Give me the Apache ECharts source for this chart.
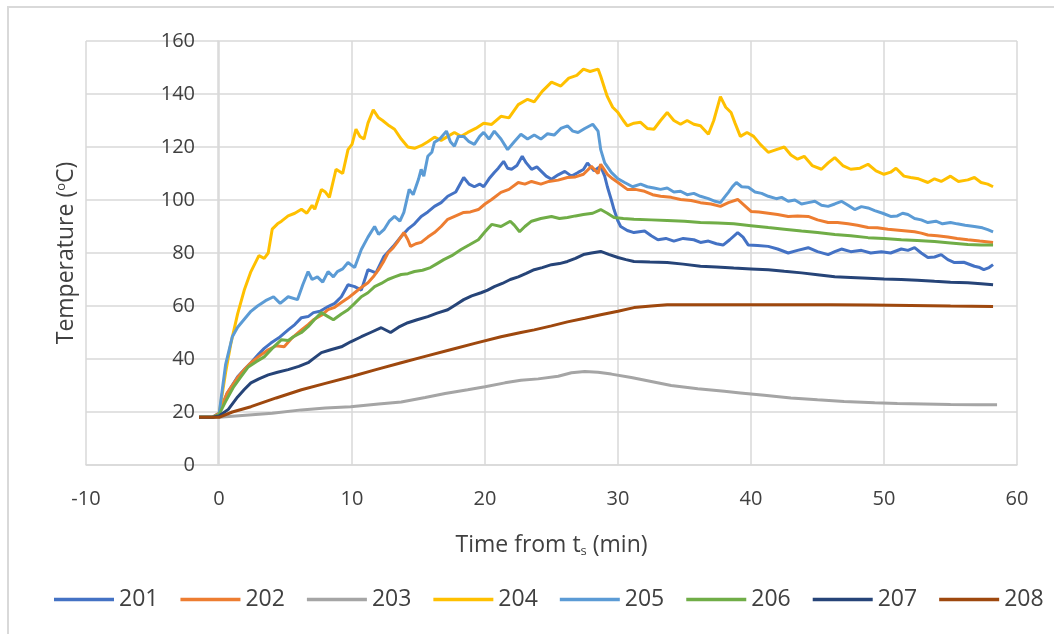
<!DOCTYPE html>
<html>
<head>
<meta charset="utf-8">
<script src="https://cdn.jsdelivr.net/npm/echarts@6/dist/echarts.min.js"></script>
<style>html,body{margin:0;padding:0;background:#fff;}#c{width:1054px;height:634px;}</style>
</head>
<body>
<div id="c"></div>
<script>
var seriesNames = ['201','202','203','204','205','206','207','208'];
var seriesColors = ['#4472C4','#ED7D31','#A5A5A5','#FFC000','#5B9BD5','#70AD47','#264478','#9E480E'];
var xTicks = {min: -10, max: 60, interval: 10};
var yTicks = {min: 0, max: 160, interval: 20};

var s201 = [[-1.5,18],[-0.5,18],[0,19.5],[0.6,27],[1.4,33.3],[1.9,36],[2.4,38.6],[3.0,42],[3.4,44],[3.9,46],[4.5,48],[5.2,51],[5.7,53],[6.2,55.6],[6.7,56],[7.1,57.5],[7.6,58],[8.2,59.8],[8.7,61],[9.2,63.5],[9.7,68],[10.2,67.3],[10.7,66],[11.2,73.7],[11.8,72.5],[12.4,78.7],[13.1,82.5],[13.7,86.2],[14.2,89],[14.7,91],[15.2,93.8],[15.7,95.5],[16.2,97.6],[16.7,99],[17.2,101.4],[17.8,103],[18.4,108.5],[18.8,106],[19.2,105],[19.6,106],[19.9,105],[20.3,108],[20.7,110.4],[21.0,112],[21.4,114.6],[21.7,112],[22.0,111.6],[22.4,113],[22.8,116.5],[23.1,114],[23.5,111.6],[23.9,112.5],[24.2,111],[24.6,109],[25.0,107.8],[25.5,109.5],[26.0,110.8],[26.5,109],[27.0,110.4],[27.4,111.5],[27.7,114],[28.2,111],[28.7,112.7],[29.0,109],[29.2,105],[29.5,100],[29.7,96.4],[30.0,92],[30.2,90],[30.7,88.5],[31.2,87.7],[32.0,88.3],[32.5,86.5],[33.0,85],[33.6,85.5],[34.2,84.5],[34.9,85.5],[35.7,85],[36.2,84],[36.8,84.5],[37.4,83.5],[37.9,83],[38.4,85],[39.0,87.7],[39.4,86],[39.8,83],[40.5,82.8],[41.3,82.5],[42.0,81.5],[42.8,80],[43.5,81],[44.3,82],[45.0,80.5],[45.8,79.4],[46.3,80.5],[46.8,81.5],[47.5,80.5],[48.3,81],[49.0,80],[49.8,80.5],[50.5,80],[51.3,81.5],[51.8,81],[52.3,82],[52.8,80],[53.3,78.3],[53.8,78.5],[54.3,79.4],[54.8,77.5],[55.3,76.4],[56.0,76.5],[56.8,75],[57.2,74.5],[57.5,73.7],[57.9,74.5],[58.2,75.6]];

var s202 = [[-1.5,18],[-0.5,18],[0,19.5],[0.6,27],[1.4,33],[1.9,36],[2.4,38.6],[3.0,41],[3.7,43.5],[4.3,45],[4.9,44.6],[5.5,48],[6.2,51],[6.7,53],[7.1,54.8],[7.7,56.5],[8.2,58.6],[8.7,59.5],[9.2,61.3],[9.7,63],[10.2,65],[10.7,67],[11.2,68.8],[11.6,71],[12.0,73.7],[12.4,77],[12.7,80],[13.1,82],[13.4,84],[13.9,87.7],[14.2,85],[14.4,82.5],[14.8,83.5],[15.2,84],[15.7,86],[16.2,87.7],[16.7,90],[17.2,92.7],[17.8,94],[18.4,95.3],[18.9,95.5],[19.5,96.4],[20.0,98.5],[20.5,100.2],[21.2,102.9],[21.8,104],[22.5,106.6],[23.0,106],[23.5,107],[24.2,106],[24.8,107],[25.5,107.5],[26.2,108.5],[26.8,108.7],[27.4,109.7],[28.0,112.7],[28.5,110],[28.7,113.5],[29.2,109.7],[29.6,108],[30.0,106.6],[30.7,104],[31.3,104],[32.0,103.3],[32.6,102],[33.2,101.4],[34.0,101],[34.7,100.2],[35.5,99.8],[36.2,99],[37.0,98.5],[37.7,97.6],[38.3,99],[39.0,100.2],[39.5,98],[40.0,95.7],[40.6,95.5],[41.3,95],[42.0,94.5],[42.8,93.8],[43.5,94],[44.3,93.8],[45.0,92.5],[45.8,91.5],[46.5,91.5],[47.3,91],[48.0,90.5],[48.8,89.6],[49.5,89.5],[50.3,89],[51.3,88.5],[52.3,88],[52.8,87.5],[53.3,86.8],[54.0,86.5],[54.8,86],[55.5,85.5],[56.3,85],[57.2,84.5],[58.2,84]];

var s203 = [[-1.5,18],[0,18],[2,18.8],[4,19.5],[6.2,20.8],[8,21.5],[9.9,22],[12,23],[13.7,23.8],[15.5,25.5],[17,27],[18.7,28.4],[20,29.5],[21.5,31],[22.7,32],[24,32.5],[25.5,33.5],[26.5,34.8],[27.5,35.3],[28.5,35],[29.5,34.3],[31,33],[32.5,31.5],[34,30],[36,28.8],[38,27.8],[39.2,27.2],[41,26.3],[43,25.3],[45,24.6],[47,24],[49.3,23.5],[51,23.2],[53,23],[55,22.8],[57,22.7],[58.5,22.7]];

var s204 = [[-1.5,18],[-0.5,18],[0,19],[0.5,35],[0.9,46],[1.4,57],[1.9,66],[2.4,73],[3.0,79],[3.4,78],[3.7,80],[4.0,89],[4.4,91],[4.7,92],[5.2,94],[5.7,95],[6.2,96.5],[6.6,95],[7.0,98],[7.2,96.5],[7.7,104],[8.0,103],[8.3,101],[8.8,111.6],[9.3,110],[9.7,119],[10.0,121],[10.3,126.7],[10.6,124],[10.9,123],[11.2,129],[11.6,134],[12.0,131],[12.3,130],[12.8,128],[13.2,126.7],[13.7,123],[14.2,120],[14.7,119.5],[15.2,120.5],[15.7,122],[16.2,123.7],[16.7,122.5],[17.2,124],[17.7,125.5],[18.2,124],[18.7,125.5],[19.3,127],[19.9,129],[20.5,128.5],[21.2,131.6],[21.8,131],[22.5,136],[23.2,138],[23.7,137],[24.3,141],[25.0,144.5],[25.7,143],[26.3,146],[26.9,147],[27.4,149.4],[27.9,148.5],[28.5,149.4],[28.7,146.7],[29.0,142],[29.2,139],[29.6,135],[30.0,133],[30.4,130],[30.7,128],[31.2,129],[31.7,129.3],[32.2,127],[32.7,126.7],[33.2,130],[33.7,133],[34.2,130],[34.7,128.6],[35.2,130],[35.7,128.6],[36.2,128],[36.8,124.8],[37.2,130],[37.7,139],[38.1,135],[38.5,133],[38.8,129],[39.2,124],[39.7,125.5],[40.2,124],[40.7,121],[41.3,118],[41.9,119],[42.5,120],[43.0,117],[43.5,115.4],[44.0,116.5],[44.6,113],[45.3,111.6],[45.8,114],[46.3,116],[46.9,113],[47.5,111.6],[48.2,112],[48.8,113.5],[49.4,111],[50.0,109.7],[50.5,110.5],[50.9,112],[51.5,109],[52.0,108.5],[52.6,108],[53.3,106.6],[53.8,108],[54.3,107],[55.0,109],[55.6,107],[56.3,107.6],[56.8,108.5],[57.3,106.6],[57.8,106],[58.2,105]];

var s205 = [[-1.5,18],[-0.5,18],[0,19],[0.5,38],[1.0,48.4],[1.4,52],[1.9,55],[2.4,58],[2.9,60],[3.5,62],[4.1,63.5],[4.6,61],[5.2,63.5],[5.9,62.4],[6.3,68],[6.7,73],[7.0,70],[7.4,71],[7.8,69],[8.2,73],[8.6,71],[8.9,73],[9.3,74],[9.7,76.4],[10.2,74.5],[10.7,81.3],[11.2,86],[11.7,90],[12.0,87],[12.4,88.8],[12.8,92],[13.2,93.8],[13.6,92],[13.9,95.3],[14.3,104],[14.6,102],[15.0,107.8],[15.2,111.6],[15.4,109],[15.7,116.5],[16.0,118],[16.2,121.8],[16.6,123],[17.1,126],[17.4,122],[17.7,120.3],[18.0,124],[18.4,124],[18.8,122],[19.2,121],[19.6,124],[19.9,125.5],[20.3,123],[20.7,126],[21.2,123],[21.7,119],[22.2,122],[22.7,124.8],[23.2,123],[23.7,124.5],[24.2,123],[24.7,125],[25.2,124.5],[25.7,127],[26.2,128],[26.6,126],[27.0,125.5],[27.5,127],[28.1,128.6],[28.5,126],[28.7,119],[29.0,114],[29.5,110.4],[30.0,108],[30.5,106.6],[31.1,105],[31.7,106],[32.2,105],[32.7,104.5],[33.2,104],[33.7,104.5],[34.2,103],[34.7,103.3],[35.2,102],[35.7,102.5],[36.2,101.4],[36.8,100.5],[37.3,99.5],[37.7,99],[38.0,101],[38.3,102.9],[38.6,105],[38.9,106.6],[39.3,105],[39.8,104.8],[40.3,103],[40.8,102.5],[41.3,101.4],[41.9,100.5],[42.3,101],[42.8,99.5],[43.3,100],[43.8,98.5],[44.3,99],[44.8,99.5],[45.3,98],[45.8,97.6],[46.3,98.5],[46.8,99.5],[47.3,98],[47.8,96.4],[48.3,97.5],[48.8,97],[49.3,96],[49.9,95],[50.5,93.8],[51.0,94],[51.4,95],[51.8,94.5],[52.3,93],[52.8,92.5],[53.3,91.5],[53.9,92],[54.4,91],[55.0,91.5],[55.5,91],[56.1,90.5],[56.8,90],[57.4,89.5],[57.8,88.8],[58.2,88]];

var s206 = [[-1.5,18],[-0.5,18],[0,19],[0.5,24],[1.1,29.5],[1.6,33],[2.2,37],[2.8,39],[3.4,40.8],[4.0,44],[4.7,47.3],[5.2,47],[5.6,48.4],[6.2,50],[6.7,52.2],[7.2,55],[7.7,57.5],[8.2,56],[8.6,54.8],[9.2,57],[9.7,58.6],[10.2,61],[10.7,63.5],[11.2,65],[11.7,67.3],[12.2,68.5],[12.7,70],[13.2,71],[13.7,71.9],[14.2,72.2],[14.7,73],[15.3,73.5],[15.9,74.5],[16.4,76],[16.9,77.5],[17.5,79],[18.2,81.3],[18.8,83],[19.5,85],[20.0,88],[20.5,90.8],[21.2,90],[21.9,92],[22.2,90.5],[22.6,88],[23.0,90],[23.5,92],[24.2,93],[25.0,93.8],[25.6,93],[26.2,93.4],[26.8,94],[27.4,94.5],[28.1,95],[28.7,96.4],[29.2,95],[29.7,93.4],[30.4,93],[31.2,92.7],[32.5,92.5],[33.7,92.3],[35.0,92],[36.2,91.5],[37.5,91.3],[38.7,91],[40.0,90.3],[41.3,89.6],[42.5,89],[43.8,88.3],[45.0,87.7],[46.3,87],[47.5,86.5],[48.8,85.8],[50.0,85.5],[51.3,85],[52.5,84.7],[53.8,84.3],[55.0,83.8],[56.3,83.2],[57.3,83],[58.2,83]];

var s207 = [[-1.5,18],[-0.5,18],[0,18.5],[0.7,21],[1.4,25.7],[1.9,28.5],[2.4,31],[3.0,32.5],[3.7,34],[4.4,35],[5.2,36],[6.0,37.2],[6.7,38.6],[7.2,40.5],[7.7,42.4],[8.4,43.5],[9.2,44.6],[9.9,46.5],[10.7,48.4],[11.4,50],[12.2,51.8],[12.9,50],[13.5,52],[14.2,53.7],[14.9,54.8],[15.7,56],[16.4,57.3],[17.2,58.6],[17.8,60.5],[18.4,62.4],[19.0,63.8],[19.7,65],[20.2,66],[20.7,67.3],[21.3,68.5],[21.9,70],[22.5,71],[23.1,72.3],[23.7,73.7],[24.3,74.5],[25.0,75.6],[25.6,76],[26.2,76.8],[26.8,78],[27.4,79.4],[28.0,80],[28.7,80.6],[29.3,79.5],[30.0,78.3],[30.6,77.5],[31.2,76.8],[32.4,76.6],[33.7,76.4],[34.9,75.8],[36.2,75],[37.4,74.7],[38.7,74.3],[40.0,74],[41.3,73.7],[42.5,73.1],[43.8,72.5],[45.0,71.8],[46.3,71],[47.5,70.8],[48.8,70.5],[50.0,70.2],[51.3,70],[52.5,69.7],[53.8,69.3],[55.0,69],[56.3,68.8],[57.3,68.4],[58.2,68]];

var s208 = [[-1.5,18],[-0.5,18],[0,18],[1.0,20],[2.4,22],[4.3,25.3],[6.2,28.4],[8.0,30.8],[9.9,33.3],[11.8,36],[13.7,38.6],[15.5,41],[17.4,43.5],[19.3,46],[21.2,48.4],[22.7,50],[23.7,51],[25.0,52.5],[26.2,54],[27.5,55.4],[28.7,56.7],[30.0,58],[31.2,59.4],[32.5,60],[33.7,60.5],[35.0,60.5],[36.2,60.5],[38.0,60.5],[40.0,60.5],[43.0,60.5],[46.0,60.5],[49.0,60.4],[52.0,60.2],[55.0,60],[58.2,59.8]];

var seriesData = [s201, s202, s203, s204, s205, s206, s207, s208];

var FONT = 'Open Sans';
var TXT = '#404040';
var GRIDC = '#d9d9d9';

var chart = echarts.init(document.getElementById('c'), null, {renderer: 'canvas'});
var series = seriesNames.map(function (n, i) {
  return {
    name: n, type: 'line', data: seriesData[i], showSymbol: false, symbol: 'none',
    lineStyle: {width: 3, color: seriesColors[i]}, itemStyle: {color: seriesColors[i]},
    animation: false, z: 2 + i
  };
});

chart.setOption({
  animation: false,
  backgroundColor: '#fff',
  grid: {left: 86, right: 37, top: 41, bottom: 169, containLabel: false, outerBoundsMode: 'none'},
  xAxis: {
    type: 'value', min: xTicks.min, max: xTicks.max, interval: xTicks.interval,
    axisLine: {show: true, onZero: false, lineStyle: {color: GRIDC, width: 1.5}},
    axisTick: {show: false},
    axisLabel: {fontFamily: FONT, fontSize: 20, color: TXT, margin: 24},
    splitLine: {show: true, lineStyle: {color: GRIDC, width: 1.5}},
    name: 'Time from t{s|s} (min)', nameLocation: 'middle', nameGap: 68,
    nameTextStyle: {fontFamily: FONT, fontSize: 23, color: TXT,
      rich: {s: {fontFamily: FONT, fontSize: 13, color: TXT, verticalAlign: 'bottom', padding: [12, 0, 0, 0]}}}
  },
  yAxis: {
    type: 'value', min: yTicks.min, max: yTicks.max, interval: yTicks.interval,
    offset: -132,
    axisLine: {show: true, onZero: false, lineStyle: {color: GRIDC, width: 1.5}},
    axisTick: {show: false},
    axisLabel: {fontFamily: FONT, fontSize: 20, color: TXT, margin: 23},
    splitLine: {show: true, lineStyle: {color: GRIDC, width: 1.5}},
    name: 'Temperature ({o|o}C)', nameLocation: 'middle', nameGap: 140,
    nameTextStyle: {fontFamily: FONT, fontSize: 23, color: TXT,
      rich: {o: {fontFamily: FONT, fontSize: 13, color: TXT, verticalAlign: 'top', padding: [0, 0, 10, 0]}}}
  },
  legend: {
    data: seriesNames, left: 49, top: 583, orient: 'horizontal',
    icon: 'rect', itemWidth: 60, itemHeight: 3.5, itemGap: 22,
    textStyle: {fontFamily: FONT, fontSize: 23, color: TXT, width: 40}
  },
  graphic: [
    {type: 'line', shape: {x1: 7, y1: 7, x2: 1054, y2: 7}, style: {stroke: GRIDC, lineWidth: 2}, silent: true},
    {type: 'line', shape: {x1: 8, y1: 7, x2: 8, y2: 634}, style: {stroke: GRIDC, lineWidth: 2}, silent: true}
  ],
  series: series
});
</script>
</body>
</html>
